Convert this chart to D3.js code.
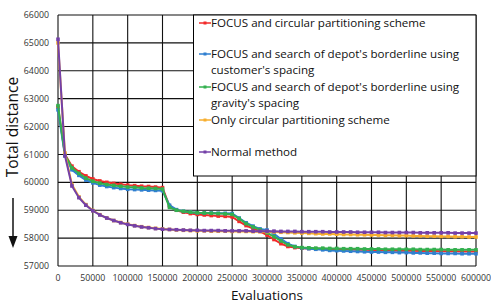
<!DOCTYPE html>
<html>
<head>
<meta charset="utf-8">
<script src="https://cdn.jsdelivr.net/npm/d3@7"></script>
<style>
  body { margin: 0; background: #fff; }
  svg { display: block; font-family: "Open Sans", sans-serif; }
</style>
</head>
<body>
<div id="chart"></div>
<script>
// evaluations sampled every 10000
var evaluations = d3.range(0, 600001, 10000);

var focusCircular = [62700,61000,60580,60380,60230,60120,60050,60000,59960,59930,
  59900,59880,59860,59850,59830,59810,59150,59000,58930,58880,
  58850,58830,58810,58790,58780,58760,58600,58450,58340,58240,
  58110,57950,57800,57700,57660,57640,57630,57620,57610,57600,
  57600,57590,57590,57580,57580,57570,57570,57560,57560,57550,
  57550,57550,57540,57540,57540,57530,57530,57530,57520,57520,
  57520];
var focusCustomer = [62600,60950,60450,60250,60080,59980,59900,59850,59810,59780,
  59750,59740,59730,59720,59710,59700,59180,59020,58960,58930,
  58910,58900,58900,58890,58890,58880,58720,58550,58430,58330,
  58290,58150,57970,57800,57700,57650,57620,57600,57580,57560,
  57550,57540,57530,57520,57510,57500,57500,57490,57490,57480,
  57480,57470,57470,57460,57460,57450,57450,57450,57440,57440,
  57440];
var focusGravity = [62750,60980,60520,60320,60150,60040,59970,59920,59890,59860,
  59830,59820,59800,59790,59780,59760,59100,59000,58960,58930,
  58910,58900,58890,58880,58870,58850,58700,58520,58400,58300,
  58190,58050,57900,57760,57690,57660,57650,57640,57640,57630,
  57630,57620,57620,57620,57610,57610,57610,57600,57600,57600,
  57600,57600,57590,57590,57590,57590,57580,57580,57580,57580,
  57580];
var onlyCircular = [65000,61050,59920,59480,59200,58990,58840,58720,58630,58560,
  58500,58450,58410,58380,58350,58330,58310,58290,58280,58270,
  58260,58260,58250,58250,58250,58240,58240,58240,58230,58230,
  58230,58220,58210,58200,58190,58180,58170,58160,58150,58150,
  58140,58130,58130,58120,58120,58110,58110,58100,58100,58090,
  58090,58080,58080,58070,58070,58060,58060,58050,58050,58040,
  58040];
var normalMethod = [65130,60950,59870,59450,59180,58980,58830,58720,58630,58550,
  58490,58440,58400,58370,58340,58320,58310,58300,58290,58280,
  58280,58270,58270,58270,58260,58260,58260,58260,58250,58250,
  58250,58250,58240,58240,58240,58230,58230,58230,58230,58220,
  58220,58220,58220,58210,58210,58210,58210,58200,58200,58200,
  58200,58200,58190,58190,58190,58190,58190,58180,58180,58180,
  58180];

var seriesNames = [
  ["FOCUS and circular partitioning scheme"],
  ["FOCUS and search of depot's borderline using", "customer's spacing"],
  ["FOCUS and search of depot's borderline using", "gravity's spacing"],
  ["Only circular partitioning scheme"],
  ["Normal method"]
];
var seriesValues = [focusCircular, focusCustomer, focusGravity, onlyCircular, normalMethod];
var seriesColors = ["#f22a2a", "#2f7fd0", "#33b04f", "#f7ae2e", "#7440a8"];
var xTicks = d3.range(0, 600001, 50000);
var yTicks = [57000, 58000, 59000, 60000, 61000, 62000, 63000, 64000, 65000, 66000];

var W = 491, H = 303;
var margin = {left: 58, right: 15, top: 15, bottom: 37};

var svg = d3.select("#chart").append("svg")
  .attr("width", W).attr("height", H);

var x = d3.scaleLinear().domain([0, 600000]).range([margin.left, W - margin.right]);
var y = d3.scaleLinear().domain([57000, 66000]).range([H - margin.bottom, margin.top]);

// grid
svg.append("g").selectAll("line").data(xTicks).enter().append("line")
  .attr("x1", function (d) { return x(d); }).attr("x2", function (d) { return x(d); })
  .attr("y1", y(57000)).attr("y2", y(66000))
  .attr("stroke", "#111").attr("stroke-width", 1.1);
svg.append("g").selectAll("line").data(yTicks).enter().append("line")
  .attr("x1", x(0)).attr("x2", x(600000))
  .attr("y1", function (d) { return y(d); }).attr("y2", function (d) { return y(d); })
  .attr("stroke", "#111").attr("stroke-width", 1.1);

// tick labels
svg.append("g").selectAll("text").data(yTicks).enter().append("text")
  .attr("x", x(0) - 9).attr("y", function (d) { return y(d); })
  .attr("dy", "0.35em").attr("text-anchor", "end")
  .attr("font-size", "8.8px").attr("fill", "#333")
  .text(function (d) { return d; });
svg.append("g").selectAll("text").data(xTicks).enter().append("text")
  .attr("x", function (d) { return x(d); }).attr("y", y(57000) + 15)
  .attr("text-anchor", "middle")
  .attr("font-size", "8.8px").attr("fill", "#333")
  .text(function (d) { return d; });

// lines
var line = d3.line()
  .x(function (d, i) { return x(evaluations[i]); })
  .y(function (d) { return y(d); });

seriesValues.forEach(function (vals, k) {
  var g = svg.append("g");
  g.append("path").datum(vals)
    .attr("d", line).attr("fill", "none")
    .attr("stroke", seriesColors[k]).attr("stroke-width", 2);
  g.selectAll("rect").data(vals).enter().append("rect")
    .attr("x", function (d, i) { return x(evaluations[i]) - 1.8; })
    .attr("y", function (d) { return y(d) - 1.8; })
    .attr("width", 3.6).attr("height", 3.6)
    .attr("fill", seriesColors[k]);
});

// legend
var lg = svg.append("g");
lg.append("rect")
  .attr("x", 193.5).attr("y", y(66000)).attr("width", x(600000) - 193.5).attr("height", 161)
  .attr("fill", "#fff").attr("stroke", "#000").attr("stroke-width", 1);
var legendY = [23, 54, 87, 120, 152];
seriesNames.forEach(function (lines, k) {
  var ly = legendY[k];
  lg.append("line").attr("x1", 199).attr("x2", 211).attr("y1", ly).attr("y2", ly)
    .attr("stroke", seriesColors[k]).attr("stroke-width", 1.5);
  lg.append("rect").attr("x", 203.5).attr("y", ly - 1.5).attr("width", 3).attr("height", 3)
    .attr("fill", seriesColors[k]);
  lines.forEach(function (t, j) {
    lg.append("text").attr("x", 211).attr("y", ly + j * 16).attr("dy", "0.35em")
      .attr("font-size", "11.6px").attr("fill", "#111").text(t);
  });
});

// axis titles
svg.append("text")
  .attr("transform", "translate(18," + 127 + ") rotate(-90)")
  .attr("text-anchor", "middle").attr("font-size", "15.5px").attr("fill", "#111")
  .text("Total distance");
svg.append("text")
  .attr("x", (x(0) + x(600000)) / 2).attr("y", 300)
  .attr("text-anchor", "middle").attr("font-size", "13.5px").attr("fill", "#111")
  .text("Evaluations");

// arrow
svg.append("line").attr("x1", 13).attr("x2", 13).attr("y1", 198).attr("y2", 240)
  .attr("stroke", "#111").attr("stroke-width", 1.5);
svg.append("path").attr("d", "M8.5,236 L17.5,236 L13,248 Z").attr("fill", "#111");
</script>
</body>
</html>
